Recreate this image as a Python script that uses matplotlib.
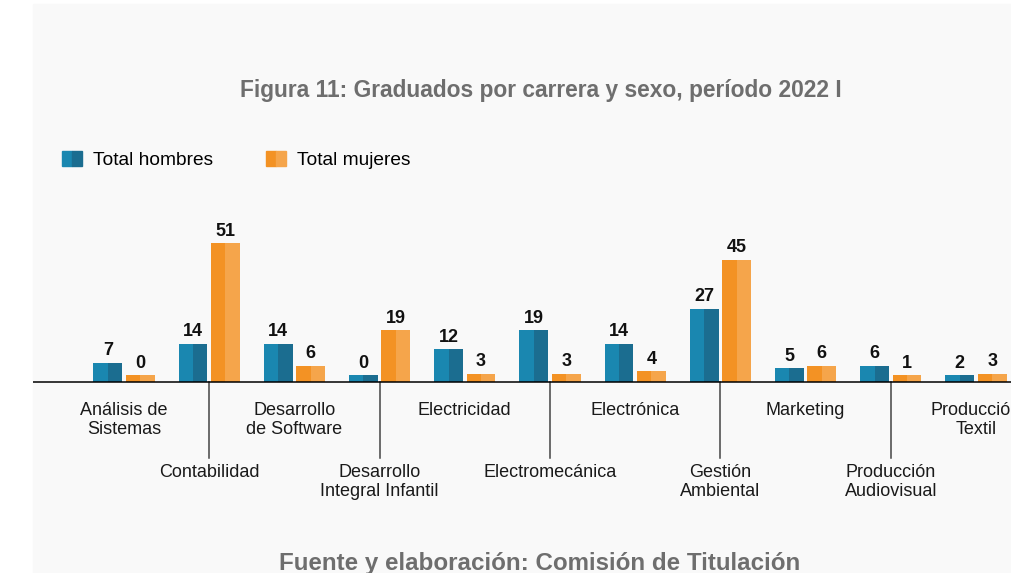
import matplotlib.pyplot as plt
import numpy as np
from matplotlib.patches import Rectangle
from matplotlib.legend_handler import HandlerTuple

plt.rcParams['font.family'] = ['Liberation Sans', 'DejaVu Sans']

carreras = ['Análisis de\nSistemas', 'Contabilidad', 'Desarrollo\nde Software',
            'Desarrollo\nIntegral Infantil', 'Electricidad', 'Electromecánica',
            'Electrónica', 'Gestión\nAmbiental', 'Marketing',
            'Producción\nAudiovisual', 'Producción\nTextil']
hombres = [7, 14, 14, 0, 12, 19, 14, 27, 5, 6, 2]
mujeres = [0, 51, 6, 19, 3, 3, 4, 45, 6, 1, 3]

azul = ('#1a87b0', '#1b6d90')
naranja = ('#f39224', '#f5a54b')
fondo = '#f9f9f9'

W, H = 1012, 573
fig = plt.figure(figsize=(W / 100, H / 100), dpi=100, facecolor='white')
fig.add_artist(Rectangle((33 / W, 0), 1 - 33 / W, 1 - 4 / H,
                         transform=fig.transFigure, color=fondo, zorder=0))

# axis placement: baseline at y=382 px, ~2.7 px per unit, 85.2 px per category
px_unit = 2.72
px_cat = 85.2
base_px = 382
top_px = 200
ax = fig.add_axes([33 / W, 0, 1 - 33 / W, 1 - top_px / H])
ax.set_facecolor('none')
xmin = -(124 - 33) / px_cat
ax.set_xlim(xmin, xmin + (W - 33) / px_cat)
ax.set_ylim(-(H - base_px) / px_unit, (base_px - top_px) / px_unit)
ax.axis('off')

x = np.arange(len(carreras))
w = 0.34
off = 0.19
min_h = 2.5  # zero values still get a thin bar


def barra(xc, vals, cols):
    h = np.maximum(np.array(vals, dtype=float), min_h)
    ax.bar(xc - w / 2, h, w / 2, align='edge', color=cols[0], zorder=3)
    ax.bar(xc, h, w / 2, align='edge', color=cols[1], zorder=3)
    for xi, hi, v in zip(xc, h, vals):
        ax.annotate(str(v), (xi, hi), xytext=(0, 2.5), textcoords='offset points',
                    ha='center', va='bottom', fontsize=13, fontweight='bold',
                    color='#111111')


barra(x - off, hombres, azul)
barra(x + off, mujeres, naranja)

ax.axhline(0, color='black', lw=1.1, zorder=4)

for i, nombre in enumerate(carreras):
    if i % 2 == 0:
        ax.text(x[i], -20 / px_unit, nombre, ha='center', va='top', fontsize=13,
                color='#1a1a1a', linespacing=1.15, clip_on=False)
    else:
        ax.plot([x[i], x[i]], [0, -76 / px_unit], color='#444444', lw=1.1)
        ax.text(x[i], -82 / px_unit, nombre, ha='center', va='top', fontsize=13,
                color='#1a1a1a', linespacing=1.15, clip_on=False)

fig.text(541 / W, 1 - 91 / H, 'Figura 11: Graduados por carrera y sexo, período 2022 I',
         ha='center', va='center', fontsize=16.4, fontweight='bold', color='#6e6e6e')
fig.text(540 / W, 1 - 570 / H, 'Fuente y elaboración: Comisión de Titulación',
         ha='center', va='baseline', fontsize=17.4, fontweight='bold', color='#6e6e6e')

h_patches = (Rectangle((0, 0), 1, 1, color=azul[0]), Rectangle((0, 0), 1, 1, color=azul[1]))
m_patches = (Rectangle((0, 0), 1, 1, color=naranja[0]), Rectangle((0, 0), 1, 1, color=naranja[1]))
fig.legend([h_patches, m_patches], ['Total hombres', 'Total mujeres'],
           handler_map={tuple: HandlerTuple(ndivide=None, pad=0)},
           loc='center left', bbox_to_anchor=(62 / W, 1 - 160 / H), ncol=2,
           frameon=False, fontsize=13.8, handlelength=1.05, handleheight=0.85,
           handletextpad=0.57, columnspacing=2.75, borderpad=0, borderaxespad=0)

fig.savefig('out.png', dpi=100, facecolor='white')
